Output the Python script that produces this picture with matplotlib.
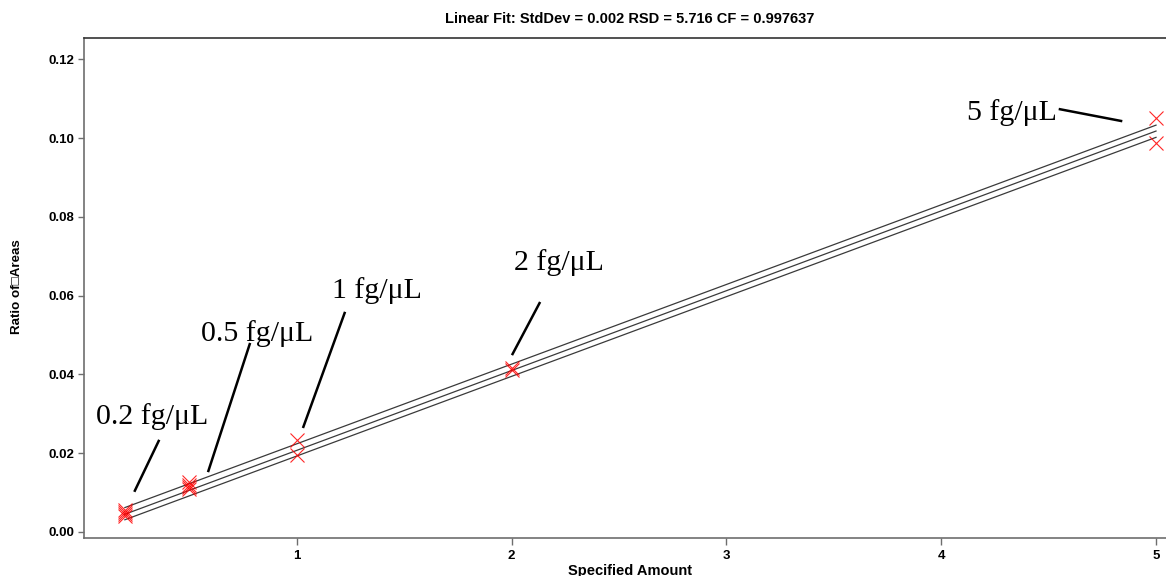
import matplotlib
matplotlib.use("Agg")
import matplotlib.pyplot as plt

# ---- data ----
amounts_02 = [0.2, 0.2, 0.2, 0.2]
ratios_02 = [0.0040, 0.0045, 0.0050, 0.0056]
amounts_05 = [0.5, 0.5, 0.5, 0.5]
ratios_05 = [0.0110, 0.0115, 0.0120, 0.0126]
amounts_1 = [1.0, 1.0]
ratios_1 = [0.0233, 0.0195]
amounts_2 = [2.0, 2.0]
ratios_2 = [0.0412, 0.0416]
amounts_5 = [5.0, 5.0]
ratios_5 = [0.1050, 0.0987]

fit_x = [0.2, 5.0]
fit_center = [0.0045, 0.1018]
fit_upper = [0.0062, 0.1033]
fit_lower = [0.0031, 0.1002]

labels = ["0.2 fg/\u03bcL", "0.5 fg/\u03bcL", "1 fg/\u03bcL", "2 fg/\u03bcL", "5 fg/\u03bcL"]
title = "Linear Fit: StdDev = 0.002 RSD = 5.716 CF = 0.997637"
x_ticks = [1, 2, 3, 4, 5]
y_ticks = [0.00, 0.02, 0.04, 0.06, 0.08, 0.10, 0.12]

# ---- layout (annotation placement, data coords) ----
label_pos = [(0.326, 0.0293), (0.815, 0.0505), (1.374, 0.0614), (2.221, 0.0683), (4.330, 0.1064)]
leader_lines = [((0.360, 0.0234), (0.244, 0.0102)),
                ((0.783, 0.0480), (0.587, 0.0152)),
                ((1.225, 0.0559), (1.029, 0.0264)),
                ((2.133, 0.0584), (2.002, 0.0449)),
                ((4.547, 0.1074), (4.843, 0.1043))]

W, H = 1166, 576
fig = plt.figure(figsize=(W / 100, H / 100), dpi=100)
ax = fig.add_axes([84 / W, (H - 537.7) / H, (1176 - 84) / W, (537.7 - 37.7) / H])

for f in (fit_upper, fit_center, fit_lower):
    ax.plot(fit_x, f, color="#3a3a3a", lw=0.9, zorder=2)

mk = dict(ls="none", marker="x", color="red", markersize=10.5, mew=0.8, alpha=0.85, zorder=3)
for xs, ys in ((amounts_02, ratios_02), (amounts_05, ratios_05), (amounts_1, ratios_1),
               (amounts_2, ratios_2), (amounts_5, ratios_5)):
    ax.plot(xs, ys, **mk)

for lab, (tx, ty), ((x1, y1), (x2, y2)) in zip(labels, label_pos, leader_lines):
    ax.text(tx, ty, lab, family="Liberation Serif", fontsize=21.5, ha="center", va="center", zorder=4)
    ax.plot([x1, x2], [y1, y2], color="black", lw=1.8, zorder=4, solid_capstyle="butt")

ax.set_xlim(0.0098, 5.093)
ax.set_ylim(-0.00145, 0.1255)
ax.set_xticks(x_ticks)
ax.set_xticklabels([str(t) for t in x_ticks])
ax.set_yticks(y_ticks)
ax.set_yticklabels([f"{t:.2f}" for t in y_ticks])

for lab in ax.get_xticklabels() + ax.get_yticklabels():
    lab.set_fontfamily("Liberation Sans")
    lab.set_fontweight("bold")
    lab.set_fontsize(9.5)

ax.tick_params(axis="y", length=4.5, width=1, color="#6e6e6e", pad=2.7)
ax.tick_params(axis="x", length=5, width=1, color="#6e6e6e", pad=3.6)
ax.spines["left"].set_color("#6e6e6e")
ax.spines["bottom"].set_color("#6e6e6e")
ax.spines["top"].set_color("#333333")
ax.spines["right"].set_color("#333333")
for s in ax.spines.values():
    s.set_linewidth(1.2)

fig.text(630 / W, 1 - 19 / H, title, family="Liberation Sans", fontweight="bold",
         fontsize=10.5, ha="center", va="center")
fig.text(17 / W, 1 - 287 / H, "Ratio of\u25a1Areas", family=["Liberation Sans", "DejaVu Sans"],
         fontweight="bold", fontsize=9.6, rotation=90, ha="center", va="center")
fig.text(630 / W, 1 - 564 / H, "Specified Amount", family="Liberation Sans", fontweight="bold",
         fontsize=10.5, ha="center", va="top")

fig.savefig("out.png", dpi=100)
